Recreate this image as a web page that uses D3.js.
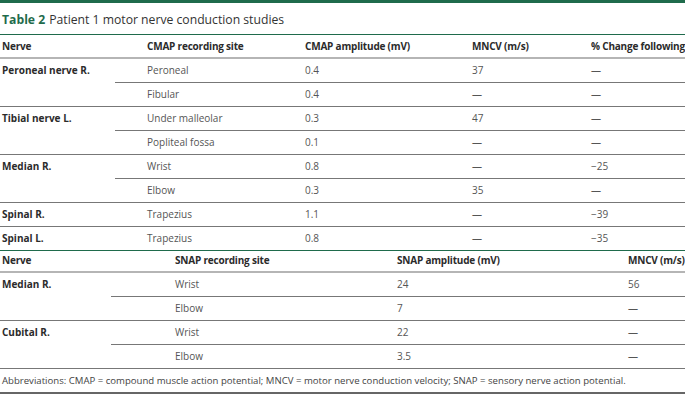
<!DOCTYPE html>
<html>
<head>
<meta charset="utf-8">
<script src="https://cdn.jsdelivr.net/npm/d3@7"></script>
<style>
html,body{margin:0;padding:0;background:#fff;}
svg{display:block;font-family:"Open Sans",sans-serif;}
</style>
</head>
<body>
<svg id="chart" width="685" height="400"></svg>
<script>
// ---- data ----
const titleLabel = "Table 2";
const titleText = "Patient 1 motor nerve conduction studies";

const motorHeaders = ["Nerve", "CMAP recording site", "CMAP amplitude (mV)", "MNCV (m/s)", "% Change following"];
const motorNerves = ["Peroneal nerve R.", "", "Tibial nerve L.", "", "Median R.", "", "Spinal R.", "Spinal L."];
const motorSites = ["Peroneal", "Fibular", "Under malleolar", "Popliteal fossa", "Wrist", "Elbow", "Trapezius", "Trapezius"];
const cmapAmplitude = ["0.4", "0.4", "0.3", "0.1", "0.8", "0.3", "1.1", "0.8"];
const motorMncv = ["37", "—", "47", "—", "—", "35", "—", "—"];
const pctChange = ["—", "—", "—", "—", "−25", "—", "−39", "−35"];

const sensoryHeaders = ["Nerve", "SNAP recording site", "SNAP amplitude (mV)", "MNCV (m/s)"];
const sensoryNerves = ["Median R.", "", "Cubital R.", ""];
const sensorySites = ["Wrist", "Elbow", "Wrist", "Elbow"];
const snapAmplitude = ["24", "7", "22", "3.5"];
const sensoryMncv = ["56", "—", "—", "—"];

const footnote = "Abbreviations: CMAP = compound muscle action potential; MNCV = motor nerve conduction velocity; SNAP = sensory nerve action potential.";

// ---- layout ----
const W = 685;
const green = "#1f6b4c";
const headColor = "#2b2b2b";
const bodyColor = "#555";
const lineColor = "#777";
const fs = 10;

const svg = d3.select("#chart");

svg.append("rect").attr("x", 0).attr("y", 0).attr("width", W).attr("height", 3).attr("fill", green);

const t = svg.append("text").attr("x", 2).attr("y", 24).attr("font-size", 12.2);
t.append("tspan").attr("font-weight", 700).attr("fill", green).text(titleLabel);
t.append("tspan").attr("fill", "#333").attr("dx", 4).text(titleText);

svg.append("line").attr("x1", 0).attr("x2", W).attr("y1", 34.5).attr("y2", 34.5)
  .attr("stroke", green).attr("stroke-width", 1);

function drawTable(cfg) {
  const {headers, cols, colX, top, headH, rowH, partialX, endLineColor} = cfg;
  const nRows = cols[0].length;
  const g = svg.append("g");
  const hx = d3.scaleOrdinal().domain(d3.range(headers.length)).range(colX);
  // header
  g.selectAll("text.h").data(headers).join("text")
    .attr("x", (d, i) => hx(i)).attr("y", top + headH / 2)
    .attr("dominant-baseline", "central")
    .attr("font-size", fs).attr("font-weight", 700).attr("fill", headColor)
    .attr("letter-spacing", -0.2)
    .text(d => d);
  const bodyTop = top + headH;
  g.append("line").attr("x1", 0).attr("x2", W).attr("y1", bodyTop).attr("y2", bodyTop)
    .attr("stroke", "#b5b5b5").attr("stroke-width", 2);
  const y = d3.scaleBand().domain(d3.range(nRows)).range([bodyTop, bodyTop + rowH * nRows]).padding(0);
  const rows = d3.range(nRows);
  cols.forEach((col, ci) => {
    g.selectAll("text.c" + ci).data(rows).join("text")
      .attr("x", hx(ci)).attr("y", r => y(r) + y.bandwidth() / 2)
      .attr("dominant-baseline", "central")
      .attr("font-size", fs)
      .attr("font-weight", ci === 0 ? 700 : 400)
      .attr("fill", ci === 0 ? headColor : bodyColor)
      .text(r => col[r]);
  });
  // row separators
  g.selectAll("line.sep").data(rows).join("line")
    .attr("x1", r => (r < nRows - 1 && cols[0][r + 1] === "") ? partialX : 0)
    .attr("x2", W)
    .attr("y1", r => Math.round(y(r) + y.bandwidth()) + 0.5)
    .attr("y2", r => Math.round(y(r) + y.bandwidth()) + 0.5)
    .attr("stroke", r => r === nRows - 1 ? endLineColor : lineColor)
    .attr("stroke-width", 1);
  return bodyTop + rowH * nRows;
}

const end1 = drawTable({
  headers: motorHeaders,
  cols: [motorNerves, motorSites, cmapAmplitude, motorMncv, pctChange],
  colX: [2, 147, 305, 472, 591],
  top: 34, headH: 24, rowH: 24, partialX: 115, endLineColor: green
});

const end2 = drawTable({
  headers: sensoryHeaders,
  cols: [sensoryNerves, sensorySites, snapAmplitude, sensoryMncv],
  colX: [2, 175, 397, 628],
  top: end1 - 2, headH: 24, rowH: 24, partialX: 111, endLineColor: lineColor
});

svg.append("text").attr("x", 2).attr("y", end2 + 12).attr("dominant-baseline", "central")
  .attr("font-size", 9.6).attr("fill", "#444").text(footnote);

svg.append("line").attr("x1", 0).attr("x2", W).attr("y1", end2 + 25).attr("y2", end2 + 25)
  .attr("stroke", "#333").attr("stroke-width", 1.5);
</script>
</body>
</html>
